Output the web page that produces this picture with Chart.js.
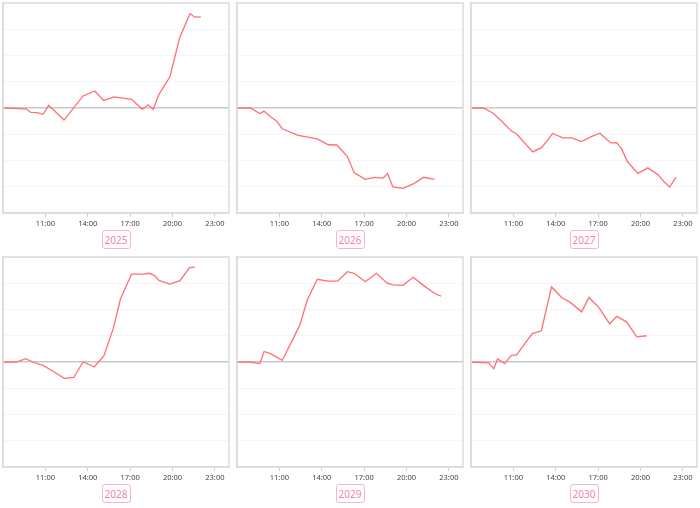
<!DOCTYPE html>
<html>
<head>
<meta charset="utf-8">
<script src="https://cdn.jsdelivr.net/npm/chart.js@4.4.0/dist/chart.umd.min.js"></script>
<style>
  html, body { margin: 0; padding: 0; background: #fff; }
  body { width: 700px; height: 508px; position: relative; overflow: hidden; font-family: "Noto Sans", sans-serif; }
  .panel { position: absolute; }
  .panel canvas { display: block; }
  .year {
    position: absolute; width: 29px; height: 19px; line-height: 18px;
    border: 1px solid #f8b4c9; border-radius: 3px; box-sizing: border-box;
    text-align: center; font-size: 10px; color: #f283a8; background: #fff;
  }
</style>
</head>
<body>
<script>
// one small panel per year, same axes everywhere
const years = ['2025', '2026', '2027', '2028', '2029', '2030'];
const xTickHours = [11, 14, 17, 20, 23];
const yTicks = [-4, -3, -2, -1, 0, 1, 2, 3, 4];

const times2025 = ['8:00', '9:39', '9:58', '10:26', '10:50', '11:14', '12:19', '13:40', '14:30', '15:08', '15:52', '16:28', '17:06', '17:52', '18:17', '18:38', '19:02', '19:49', '20:31', '21:14', '21:35', '22:00'];
const values2025 = [0, -0.03, -0.17, -0.18, -0.24, 0.10, -0.46, 0.46, 0.65, 0.29, 0.42, 0.38, 0.33, -0.05, 0.12, -0.05, 0.51, 1.19, 2.69, 3.59, 3.46, 3.47];

const times2026 = ['8:00', '8:57', '9:37', '9:55', '10:22', '10:48', '11:12', '12:20', '13:41', '14:28', '15:04', '15:49', '16:17', '17:05', '17:47', '18:20', '18:40', '19:02', '19:45', '20:31', '21:13', '21:59'];
const values2026 = [0, 0, -0.21, -0.12, -0.33, -0.49, -0.79, -1.04, -1.18, -1.40, -1.41, -1.85, -2.46, -2.72, -2.64, -2.67, -2.50, -3.01, -3.06, -2.88, -2.64, -2.72];

const times2027 = ['8:00', '8:54', '9:37', '10:06', '10:52', '11:14', '12:22', '13:01', '13:47', '14:30', '15:08', '15:49', '16:31', '17:07', '17:54', '18:19', '18:40', '19:04', '19:49', '20:31', '21:13', '21:41', '22:04', '22:31'];
const values2027 = [0, 0, -0.22, -0.47, -0.88, -0.99, -1.67, -1.50, -0.97, -1.14, -1.14, -1.28, -1.09, -0.96, -1.33, -1.32, -1.56, -2.04, -2.49, -2.28, -2.53, -2.82, -3.01, -2.63];

const times2028 = ['8:00', '8:57', '9:37', '10:08', '10:50', '11:33', '12:20', '13:01', '13:40', '14:27', '15:08', '15:48', '16:19', '17:06', '17:56', '18:20', '18:41', '19:04', '19:49', '20:32', '21:11', '21:35'];
const values2028 = [0, 0, 0.13, -0.01, -0.13, -0.35, -0.62, -0.59, 0.01, -0.19, 0.22, 1.26, 2.40, 3.35, 3.35, 3.38, 3.31, 3.10, 2.97, 3.10, 3.59, 3.62];

const times2029 = ['8:00', '8:54', '9:37', '9:55', '10:22', '11:12', '11:59', '12:27', '12:59', '13:41', '14:28', '15:07', '15:49', '16:17', '17:05', '17:52', '18:37', '19:02', '19:45', '20:28', '21:13', '22:03', '22:27'];
const values2029 = [0, 0, -0.06, 0.40, 0.32, 0.06, 0.90, 1.41, 2.37, 3.15, 3.08, 3.08, 3.44, 3.38, 3.06, 3.38, 3.01, 2.94, 2.92, 3.23, 2.91, 2.59, 2.51];

const times2030 = ['8:00', '9:15', '9:37', '9:53', '10:23', '10:52', '11:13', '12:20', '12:59', '13:42', '14:27', '15:02', '15:50', '16:21', '17:03', '17:49', '18:19', '19:01', '19:44', '20:26'];
const values2030 = [0, -0.03, -0.26, 0.12, -0.06, 0.26, 0.26, 1.08, 1.19, 2.86, 2.44, 2.27, 1.91, 2.46, 2.08, 1.45, 1.74, 1.53, 0.96, 1.00];

const series = {
  '2025': [times2025, values2025],
  '2026': [times2026, values2026],
  '2027': [times2027, values2027],
  '2028': [times2028, values2028],
  '2029': [times2029, values2029],
  '2030': [times2030, values2030]
};

// plot boxes (left, top, width, height) in page pixels
const colLeft = [3, 237, 471];
const rowTop = [3, 257];
const plotW = 226, plotH = 209;

function toHours(t) {
  const [h, m] = t.split(':').map(Number);
  return h + m / 60;
}

// frame around the plot area
const frame = {
  id: 'frame',
  afterDraw(chart) {
    const a = chart.chartArea, c = chart.ctx;
    c.save();
    c.strokeStyle = '#dcdcdc';
    c.lineWidth = 1.5;
    c.strokeRect(a.left, a.top, a.right - a.left, a.bottom - a.top);
    c.restore();
  }
};

const PAD = 3, AXIS_H = 18;

years.forEach((yr, i) => {
  const left = colLeft[i % 3], top = rowTop[Math.floor(i / 3)];
  const box = document.createElement('div');
  box.className = 'panel';
  box.style.left = (left - PAD) + 'px';
  box.style.top = (top - PAD) + 'px';
  const canvas = document.createElement('canvas');
  canvas.width = plotW + 2 * PAD;
  canvas.height = plotH + PAD + AXIS_H;
  box.appendChild(canvas);
  document.body.appendChild(box);

  const label = document.createElement('div');
  label.className = 'year';
  label.textContent = yr;
  label.style.left = (left + plotW / 2 - 14.5) + 'px';
  label.style.top = (top + plotH + 18) + 'px';
  document.body.appendChild(label);

  const [times, values] = series[yr];
  const pts = times.map((t, k) => ({ x: toHours(t), y: values[k] }));

  new Chart(canvas, {
    type: 'line',
    data: {
      datasets: [{
        data: pts,
        borderColor: '#ff6f73',
        borderWidth: 1.3,
        pointRadius: 0,
        tension: 0,
        fill: false
      }]
    },
    options: {
      responsive: false,
      animation: false,
      layout: { padding: { left: PAD, right: PAD, top: PAD, bottom: 0 } },
      plugins: { legend: { display: false }, tooltip: { enabled: false } },
      scales: {
        x: {
          type: 'linear',
          min: 8,
          max: 24,
          afterBuildTicks: axis => { axis.ticks = xTickHours.map(v => ({ value: v })); },
          grid: { drawOnChartArea: false, drawTicks: true, tickLength: 4, color: '#cfcfcf' },
          border: { display: true, color: '#dcdcdc', width: 1.5 },
          ticks: {
            padding: 2,
            color: '#444',
            font: { family: 'Noto Sans', size: 7.5 },
            maxRotation: 0,
            callback: v => v + ':00'
          }
        },
        y: {
          min: -4,
          max: 4,
          afterBuildTicks: axis => { axis.ticks = yTicks.map(v => ({ value: v })); },
          ticks: { display: false },
          grid: {
            drawTicks: false,
            color: c => c.tick.value === 0 ? '#c9c9c9' : '#f5f5f5',
            lineWidth: c => c.tick.value === 0 ? 1.6 : 1
          },
          border: { display: true, color: '#dcdcdc', width: 1.5 }
        }
      }
    },
    plugins: [frame]
  });
});
</script>
</body>
</html>
